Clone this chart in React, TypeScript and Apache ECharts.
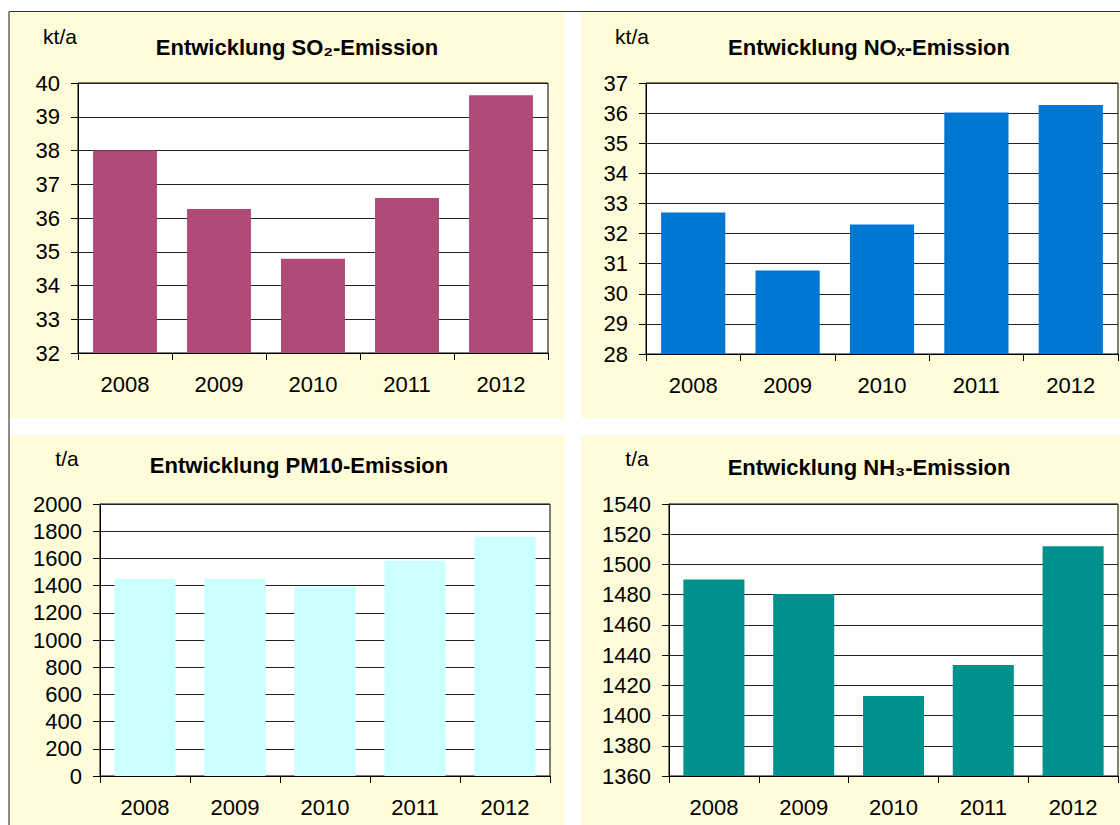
import React, { useEffect, useRef } from "react";
import * as echarts from "echarts";

const years = ["2008", "2009", "2010", "2011", "2012"];
const so2Values = [38.0, 36.27, 34.79, 36.59, 39.64];
const noxValues = [32.7, 30.77, 32.3, 36.02, 36.27];
const pm10Values = [1450, 1450, 1393, 1582, 1759];
const nh3Values = [1490, 1480.5, 1413, 1433.5, 1512];

const titles = [
  "Entwicklung SO₂-Emission",
  "Entwicklung NOₓ-Emission",
  "Entwicklung PM10-Emission",
  "Entwicklung NH₃-Emission",
];
const units = ["kt/a", "kt/a", "t/a", "t/a"];

const FONT = '"Liberation Sans", Arial, Helvetica, sans-serif';
const PANEL = "#FFFCD9";

export default function App() {
  const ref = useRef<HTMLDivElement>(null);

  useEffect(() => {
    if (!ref.current) return;
    const chart = echarts.init(ref.current, null, { renderer: "svg" });

    const grids = [
      { left: 78, top: 83, width: 470, height: 270 },
      { left: 646, top: 83, width: 472, height: 271 },
      { left: 100, top: 504, width: 450, height: 272 },
      { left: 669, top: 504, width: 449, height: 272 },
    ];
    const ranges = [
      { min: 32, max: 40, interval: 1 },
      { min: 28, max: 37, interval: 1 },
      { min: 0, max: 2000, interval: 200 },
      { min: 1360, max: 1540, interval: 20 },
    ];
    const datasets = [so2Values, noxValues, pm10Values, nh3Values];
    const colors = ["#B04A78", "#0078D2", "#CCFFFF", "#00918F"];

    const titlePos = [
      [297, 47],
      [869, 47],
      [299, 465],
      [869, 467],
    ];
    const unitPos = [
      [60, 36],
      [632, 36],
      [67, 458],
      [637, 458],
    ];

    const graphic: any[] = [
      { type: "rect", z: -10, shape: { x: 9, y: 12, width: 555, height: 406 }, style: { fill: PANEL } },
      { type: "rect", z: -10, shape: { x: 581, y: 12, width: 539, height: 406 }, style: { fill: PANEL } },
      { type: "rect", z: -10, shape: { x: 9, y: 435, width: 555, height: 390 }, style: { fill: PANEL } },
      { type: "rect", z: -10, shape: { x: 581, y: 435, width: 539, height: 390 }, style: { fill: PANEL } },
      { type: "line", z: 5, shape: { x1: 9, y1: 11.5, x2: 1120, y2: 11.5 }, style: { stroke: "#333", lineWidth: 1 } },
      { type: "line", z: 5, shape: { x1: 9, y1: 11.5, x2: 9, y2: 825 }, style: { stroke: "#666", lineWidth: 1.5 } },
    ];
    titles.forEach((t, i) => {
      graphic.push({
        type: "text",
        x: titlePos[i][0],
        y: titlePos[i][1],
        style: {
          text: t,
          fontSize: 22,
          fontWeight: "bold",
          fontFamily: FONT,
          fill: "#000",
          align: "center",
          verticalAlign: "middle",
        },
      });
      graphic.push({
        type: "text",
        x: unitPos[i][0],
        y: unitPos[i][1],
        style: {
          text: units[i],
          fontSize: 21,
          fontFamily: FONT,
          fill: "#000",
          align: "center",
          verticalAlign: "middle",
        },
      });
    });

    const option: any = {
      animation: false,
      backgroundColor: "#fff",
      textStyle: { fontFamily: FONT },
      graphic,
      grid: grids.map((g) => ({
        ...g,
        show: true,
        backgroundColor: "#fff",
        borderColor: "#000",
        borderWidth: 1,
        containLabel: false,
      })),
      xAxis: grids.map((_, i) => ({
        type: "category",
        gridIndex: i,
        data: years,
        boundaryGap: true,
        axisLine: { show: true, lineStyle: { color: "#000", width: 1 } },
        axisTick: { show: true, length: 7, alignWithLabel: false, lineStyle: { color: "#000" } },
        axisLabel: { fontSize: 22, color: "#000", fontFamily: FONT, margin: 20 },
        splitLine: { show: false },
      })),
      yAxis: grids.map((_, i) => ({
        type: "value",
        gridIndex: i,
        min: ranges[i].min,
        max: ranges[i].max,
        interval: ranges[i].interval,
        axisLine: { show: true, lineStyle: { color: "#000", width: 1 } },
        axisTick: { show: true, length: 7, lineStyle: { color: "#000" } },
        axisLabel: {
          fontSize: 22,
          color: "#000",
          fontFamily: FONT,
          margin: 18,
          formatter: (v: number) => String(v),
        },
        splitLine: { show: true, lineStyle: { color: "#222", width: 1 } },
      })),
      series: datasets.map((d, i) => ({
        type: "bar",
        xAxisIndex: i,
        yAxisIndex: i,
        data: d,
        barCategoryGap: "32%",
        itemStyle: { color: colors[i] },
      })),
    };

    chart.setOption(option);
    return () => {
      chart.dispose();
    };
  }, []);

  return (
    <div
      ref={ref}
      style={{ position: "absolute", left: 0, top: 0, width: 1120, height: 825 }}
    />
  );
}
